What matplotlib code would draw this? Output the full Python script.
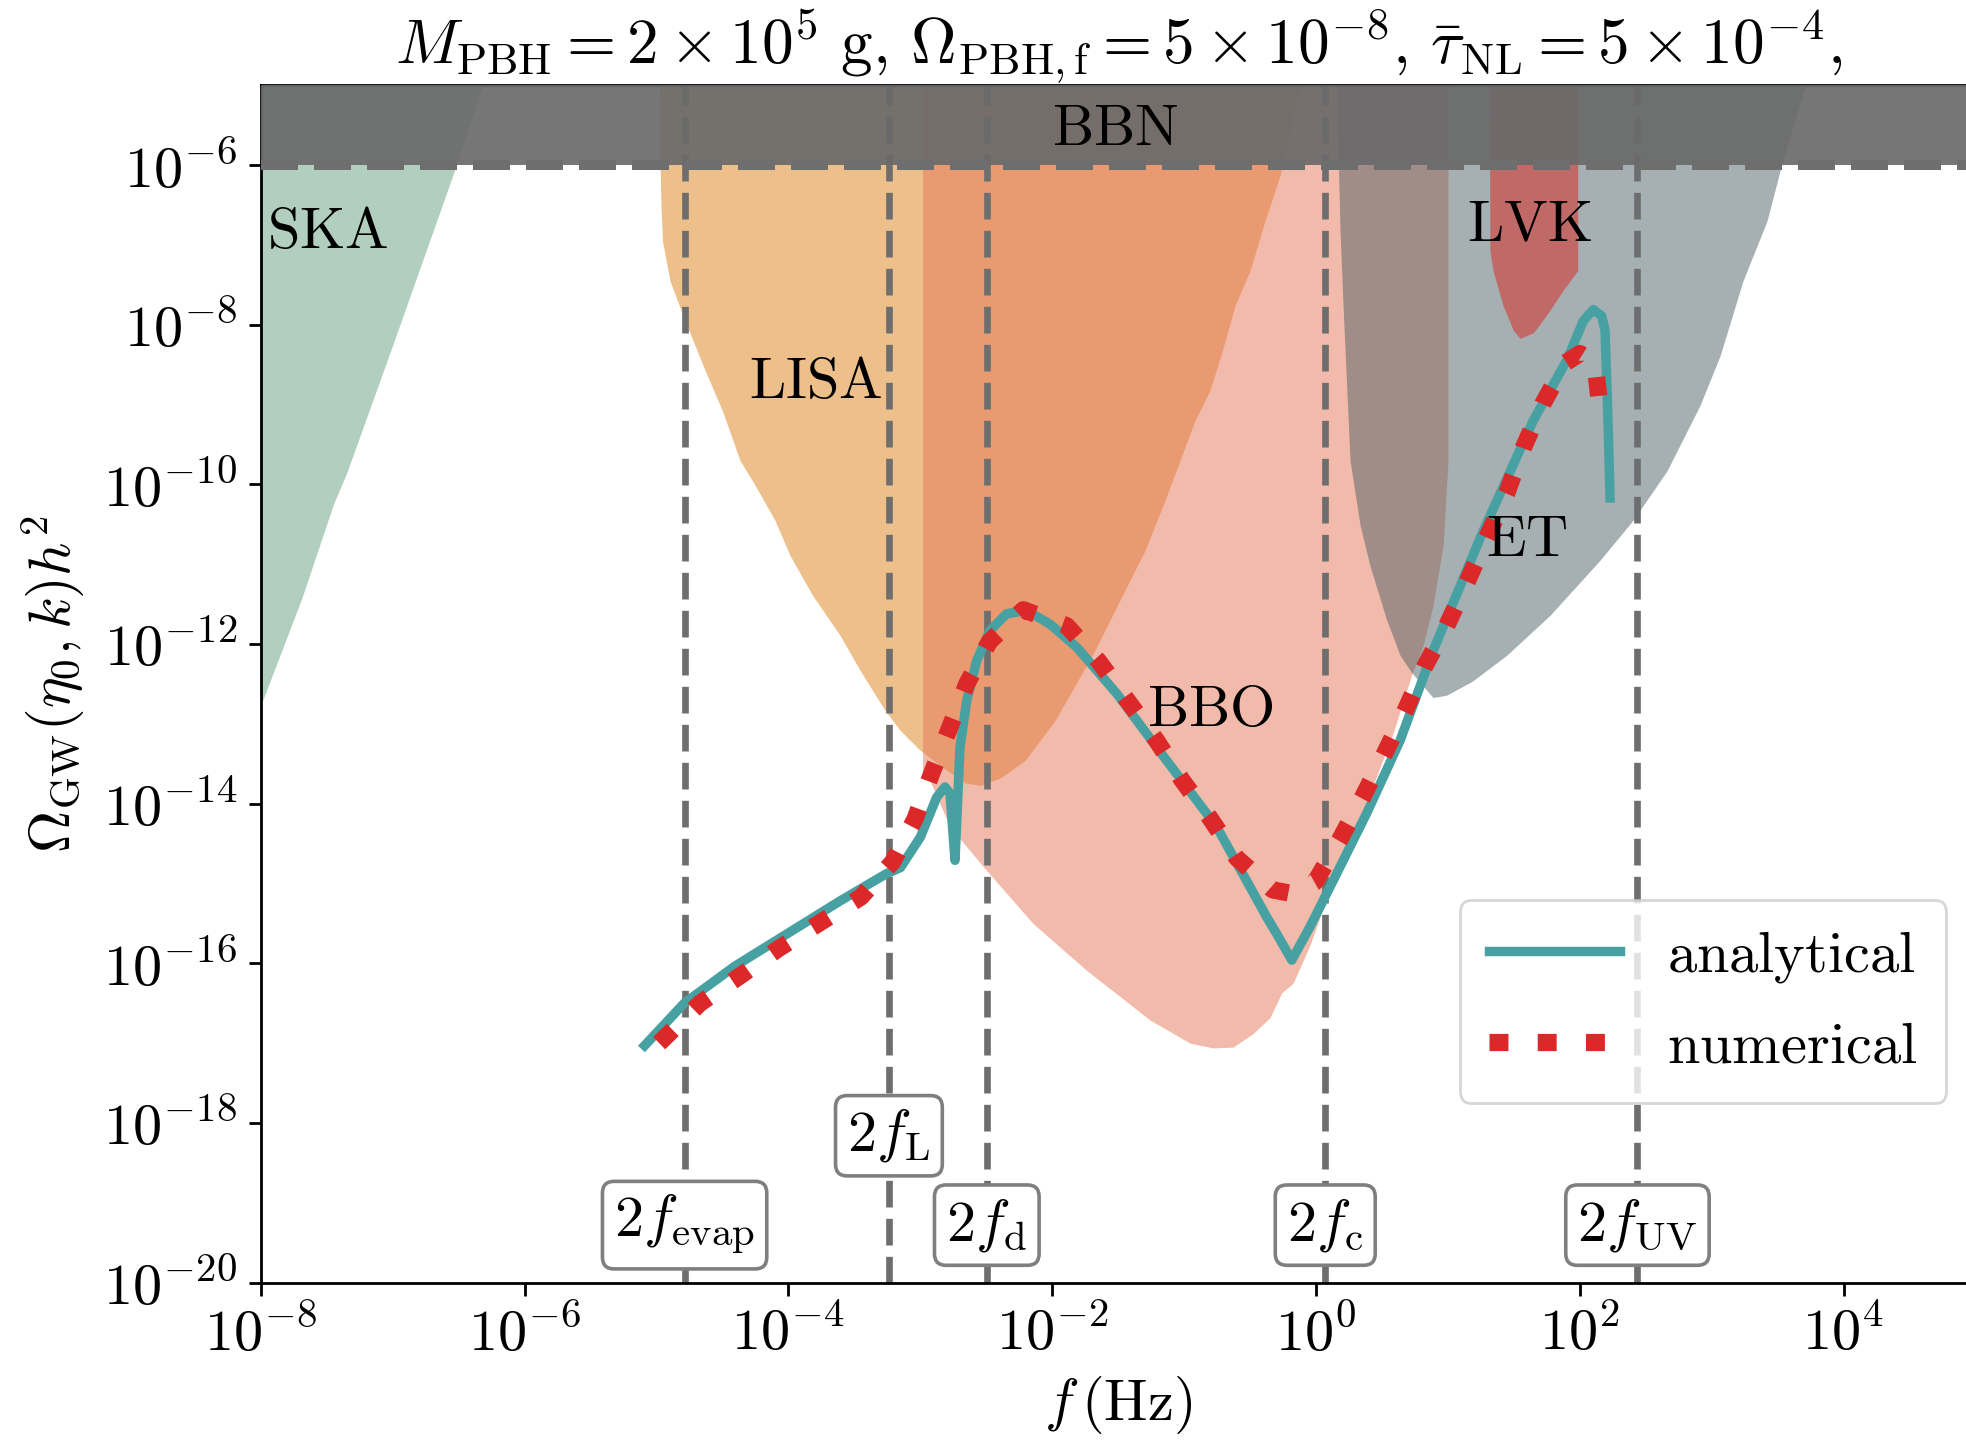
import matplotlib as mpl
mpl.use("Agg")
import matplotlib.pyplot as plt
import numpy as np

plt.rcParams['font.family'] = 'serif'
plt.rcParams['font.serif'] = ['cmr10', 'DejaVu Serif']
plt.rcParams['mathtext.fontset'] = 'cm'
plt.rcParams['axes.formatter.use_mathtext'] = True

# detector sensitivity regions (log10 f [Hz], log10 Omega h^2), filled above the curve
ska_logf = [-8.10, -7.98, -7.69, -7.45, -7.35, -7.01, -6.77, -6.53, -6.32, -6.25]
ska_logO = [-13.2, -12.68, -11.43, -10.25, -9.86, -8.30, -7.18, -6.06, -5.01, -4.8]

lisa_logf = [-4.98, -4.977, -4.973, -4.966, -4.955, -4.898, -4.784, -4.632, -4.500, -4.367,
             -4.253, -4.102, -3.988, -3.817, -3.609, -3.457, -3.268, -3.154, -3.002, -2.851,
             -2.661, -2.547, -2.396, -2.206, -1.979, -1.827, -1.676, -1.486, -1.297, -1.145,
             -1.031, -0.917, -0.804, -0.709, -0.614, -0.500, -0.387, -0.273, -0.122, -0.08]
lisa_logO = [-4.5, -5.0, -6.01, -6.51, -6.95, -7.45, -7.95, -8.57, -9.08, -9.70,
             -10.01, -10.45, -10.89, -11.39, -11.89, -12.33, -12.83, -13.08, -13.33, -13.52,
             -13.74, -13.77, -13.68, -13.46, -12.96, -12.52, -12.08, -11.45, -10.83, -10.20,
             -9.70, -9.20, -8.82, -8.32, -7.76, -7.32, -6.70, -6.13, -5.0, -4.5]

bbo_logf = [-2.983, -2.951, -2.775, -2.522, -2.146, -1.738, -1.259, -0.955, -0.781, -0.629,
            -0.478, -0.349, -0.260, -0.174, -0.045, 0.182, 0.409, 0.584, 0.728, 0.811,
            0.887, 0.963, 1.001]
bbo_logO = [-13.58, -13.62, -14.29, -14.79, -15.50, -16.09, -16.71, -17.00, -17.06, -17.05,
            -16.88, -16.68, -16.37, -16.25, -15.77, -14.71, -13.87, -13.12, -12.37, -12.02,
            -11.52, -10.77, -9.70]

et_logf = [0.168, 0.170, 0.182, 0.205, 0.258, 0.334, 0.409, 0.536, 0.637, 0.726,
           0.887, 0.991, 1.190, 1.446, 1.774, 2.153, 2.403, 2.661, 2.911, 3.063,
           3.237, 3.419, 3.518, 3.707, 3.75]
et_logO = [-4.5, -6.01, -6.82, -7.76, -9.70, -10.51, -11.02, -11.70, -12.14, -12.36,
           -12.67, -12.64, -12.46, -12.14, -11.64, -10.95, -10.45, -9.83, -9.01, -8.39,
           -7.45, -6.70, -6.07, -5.01, -4.5]

lvk_logf = [1.314, 1.318, 1.342, 1.418, 1.496, 1.547, 1.648, 1.760, 1.873, 1.984]
lvk_logO = [-4.5, -7.07, -7.32, -7.76, -8.07, -8.17, -8.10, -7.85, -7.57, -7.32]

bbn_bound = 1e-6

# GW spectra
ana_logf = [-5.09, -4.79, -4.41, -4.01, -3.60, -3.26, -3.15, -3.00, -2.876, -2.813,
            -2.775, -2.737, -2.699, -2.648, -2.573, -2.472, -2.345, -2.193, -2.017, -1.814,
            -1.511, -1.132, -0.753, -0.374, -0.298, -0.184, -0.045, 0.131, 0.384, 0.637,
            0.889, 1.268, 1.647, 1.900, 2.027, 2.102, 2.166, 2.191, 2.204, 2.216, 2.229]
ana_logO = [-17.03, -16.50, -16.04, -15.63, -15.21, -14.88, -14.80, -14.42, -13.92, -13.79,
            -13.87, -14.71, -13.29, -12.71, -12.21, -11.83, -11.62, -11.58, -11.75, -12.04,
            -12.62, -13.46, -14.29, -15.42, -15.63, -15.96, -15.54, -14.96, -14.12, -13.21,
            -12.08, -10.58, -9.20, -8.45, -7.95, -7.81, -7.89, -8.07, -8.70, -9.33, -10.17]

num_logf = [-4.98, -4.67, -4.36, -4.07, -3.77, -3.45, -3.21, -3.04, -2.914, -2.780,
            -2.648, -2.477, -2.219, -1.890, -1.645, -1.428, -1.208, -1.018, -0.804, -0.601,
            -0.328, -0.17, -0.007, 0.177, 0.359, 0.523, 0.675, 0.827, 0.991, 1.143,
            1.294, 1.446, 1.572, 1.723, 1.888, 2.000, 2.115, 2.16]
num_logO = [-17.0, -16.50, -16.15, -15.81, -15.50, -15.17, -14.73, -14.19, -13.62, -13.06,
            -12.50, -11.97, -11.57, -11.77, -12.22, -12.71, -13.21, -13.70, -14.18, -14.68,
            -15.08, -15.13, -14.98, -14.46, -13.90, -13.36, -12.84, -12.27, -11.77, -11.23,
            -10.67, -10.11, -9.54, -8.98, -8.48, -8.36, -8.48, -9.15]

# characteristic frequencies (log10 f) and label heights (log10 Omega)
freq_labels = [r'$2f_{\rm evap}$', r'$2f_{\rm L}$', r'$2f_{\rm d}$', r'$2f_{\rm c}$', r'$2f_{\rm UV}$']
freq_logf = [-4.787, -3.238, -2.496, 0.070, 2.437]
freq_label_logO = [-19.28, -18.16, -19.28, -19.28, -19.28]

region_names = [r'$\mathrm{SKA}$', r'$\mathrm{LISA}$', r'$\mathrm{BBN}$', r'$\mathrm{BBO}$',
                r'$\mathrm{LVK}$', r'$\mathrm{ET}$']
region_label_logf = [-7.95, -3.79, -1.52, -0.80, 1.62, 1.60]
region_label_logO = [-6.86, -8.73, -5.56, -12.84, -6.77, -10.72]
region_label_ha = ['left', 'center', 'center', 'center', 'center', 'center']

top = 1e-4
fs = 21

fig = plt.figure(figsize=(9.83, 7.205), dpi=200)
ax = fig.add_axes([0.13266, 0.10992, 0.87218, 0.83088])
ax.set_xscale('log')
ax.set_yscale('log')

regions = [(ska_logf, ska_logO, '#659f7f'),
           (lisa_logf, lisa_logO, '#db8119'),
           (bbo_logf, bbo_logO, '#e77757'),
           (et_logf, et_logO, '#4f6165'),
           (lvk_logf, lvk_logO, '#dd241e')]
for lf, lo, c in regions:
    ax.fill_between(10.0**np.array(lf), 10.0**np.array(lo), top, color=c, alpha=0.5, lw=0, zorder=1)

for lf in freq_logf:
    ax.axvline(10.0**lf, color='#6e6e6e', lw=2.4, ls=(0, (4.0, 1.7)), zorder=2)

ax.axhspan(bbn_bound, top, color='#6a6a6a', alpha=0.92, lw=0, zorder=3)
ax.axhline(bbn_bound, color='#6e6e6e', lw=3.6, ls='--', zorder=3.5)

ax.plot(10.0**np.array(ana_logf), 10.0**np.array(ana_logO), color='#47a1a2', lw=3.4,
        label=r'$\mathrm{analytical}$', zorder=4)
ax.plot(10.0**np.array(num_logf), 10.0**np.array(num_logO), color='#dc2828', lw=6.2,
        ls=(0, (1.1, 1.7)), label=r'$\mathrm{numerical}$', zorder=5)

for name, lf, lo, ha in zip(region_names, region_label_logf, region_label_logO, region_label_ha):
    ax.text(10.0**lf, 10.0**lo, name, fontsize=fs, ha=ha, va='center', zorder=6)

for lab, lf, lo in zip(freq_labels, freq_logf, freq_label_logO):
    ax.text(10.0**lf, 10.0**lo, lab, fontsize=fs, ha='center', va='center', zorder=7,
            bbox=dict(boxstyle='round,pad=0.2', fc='white', ec='#7f7f7f', lw=1.3))

ax.set_xlim(1e-8, 1e5)
ax.set_ylim(1e-20, 1e-5)
ax.set_xticks(10.0**np.arange(-8, 5, 2))
ax.set_yticks(10.0**np.arange(-20, -5, 2))
ax.minorticks_off()
ax.tick_params(labelsize=fs, length=4.5, width=1.0, pad=4)
for s in ax.spines.values():
    s.set_linewidth(1.0)

ax.set_xlabel(r'$f\,(\mathrm{Hz})$', fontsize=fs, labelpad=4)
ax.set_ylabel(r'$\Omega_{\rm GW}(\eta_0,k)h^2$', fontsize=fs, labelpad=6)
ax.set_title(r'$M_{\rm PBH}=2\times10^5\ {\rm g},\,\Omega_{\rm PBH,f}=5\times10^{-8},\,'
             r'\bar{\tau}_{\rm NL}=5\times10^{-4},$', fontsize=22.8, pad=5)

leg = ax.legend(loc='upper right', bbox_to_anchor=(0.990, 0.3754), bbox_transform=fig.transFigure,
                fontsize=fs, handlelength=2.25, framealpha=0.8, edgecolor='#cccccc',
                borderaxespad=0, labelspacing=0.63, borderpad=0.5)
leg.set_zorder(8)

fig.savefig('out.png', dpi=200)
